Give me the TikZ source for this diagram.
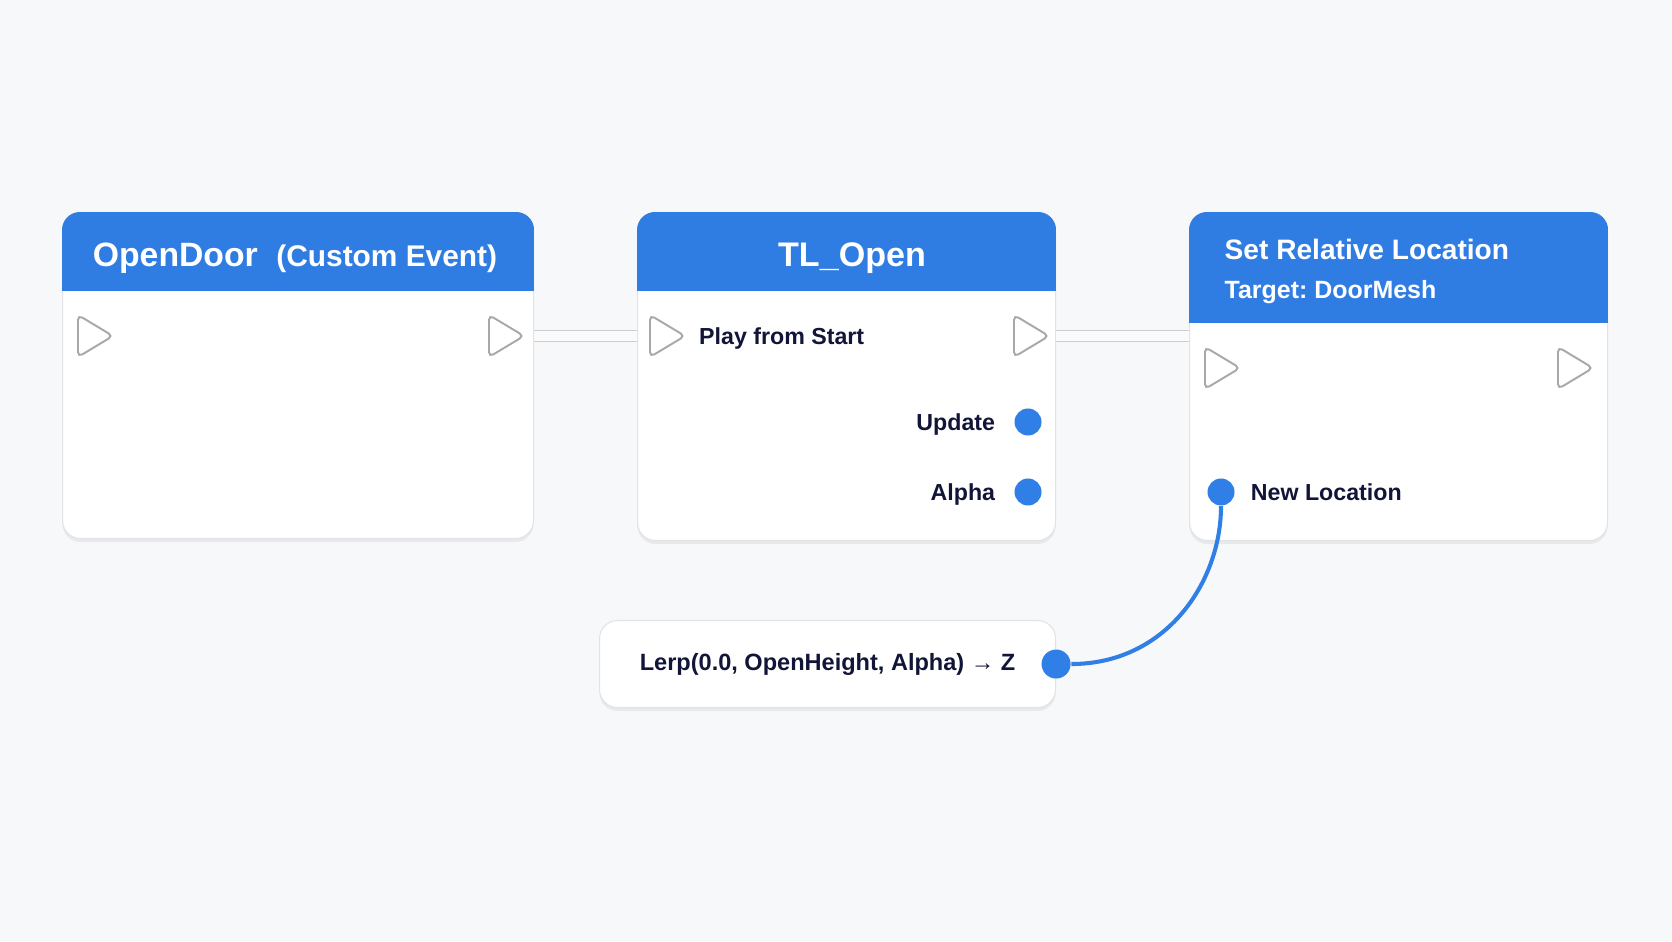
\documentclass[tikz,border=0pt]{standalone}
\usepackage{fontspec}
\setmainfont{Liberation Sans}
\usepackage{xcolor}
\usepackage{tikz}
\usetikzlibrary{positioning,shapes.geometric,shadows}

\definecolor{canvas}{HTML}{F7F8FA}
\definecolor{hdrblue}{HTML}{2F7DE2}
\definecolor{pinblue}{HTML}{2F7FE6}
\definecolor{ink}{HTML}{111638}
\definecolor{boxedge}{HTML}{E1E3E7}
\definecolor{pingray}{HTML}{A6A8AC}
\definecolor{wireedge}{HTML}{CBCED3}
\definecolor{wirefill}{HTML}{FBFBFC}

\begin{document}
\frenchspacing
\begin{tikzpicture}[
  font=\bfseries,
  bpbox/.style={draw=boxedge, line width=0.3pt, fill=white, rounded corners=0.18cm,
    anchor=north west, inner sep=0pt, text=ink,
    drop shadow={shadow xshift=0pt, shadow yshift=-1pt, opacity=0.06, fill=black}},
  hdtext/.style={text=white, inner sep=0pt},
  pinlabel/.style={text=ink, inner sep=0pt, font=\bfseries\fontsize{6.6pt}{8pt}\selectfont,
    text height=4.7pt, text depth=0pt},
  execpin/.style={isosceles triangle, isosceles triangle stretches, minimum width=0.42cm,
    minimum height=0.35cm, inner sep=0pt, anchor=west, draw=pingray, fill=white,
    line width=0.55pt, rounded corners=1.4pt},
  datapin/.style={circle, fill=pinblue, minimum size=0.27cm, inner sep=0pt},
  execwire/.style={draw=wireedge, line width=0.5pt, double=wirefill, double distance=2.6pt},
  datawire/.style={draw=pinblue, line width=1.15pt}
]

% ---------------- canvas ----------------
\fill[canvas] (0,0) rectangle (16.72,9.41);

% ---------------- node bodies ----------------
\node[bpbox, minimum width=4.71cm, minimum height=3.26cm] (evt) at (0.62,7.29) {};
\node[bpbox, minimum width=4.18cm, minimum height=3.28cm] (tl) at (6.37,7.29) {};
\node[bpbox, minimum width=4.18cm, minimum height=3.28cm] (srl) at (11.89,7.29) {};
\node[bpbox, minimum width=4.56cm, minimum height=0.87cm,
  font=\bfseries\fontsize{6.7pt}{8pt}\selectfont] (lerp) at (5.99,3.21)
  {Lerp(0.0, OpenHeight, Alpha) → Z};

% blue title bars, clipped to the rounded body
\foreach \b/\h in {evt/0.79cm, tl/0.79cm, srl/1.11cm} {
  \begin{scope}
    \clip[rounded corners=0.18cm] (\b.south west) rectangle (\b.north east);
    \fill[hdrblue] (\b.north west) rectangle ([yshift=-\h]\b.north east);
  \end{scope}
}

% titles
\node[hdtext, anchor=base, font=\bfseries\fontsize{9.6pt}{11pt}\selectfont] (evtTitle) at (2.95,6.74)
  {OpenDoor\hspace{0.55em}{\fontsize{8.5pt}{10pt}\selectfont(Custom Event)}};
\node[hdtext, anchor=base, font=\bfseries\fontsize{9.7pt}{11pt}\selectfont] (tlTitle) at (8.52,6.74) {TL\_Open};
\node[hdtext, anchor=base west, font=\bfseries\fontsize{8pt}{10pt}\selectfont] (srlTitle) at (12.24,6.81) {Set Relative Location};
\node[hdtext, anchor=base west, font=\bfseries\fontsize{7.1pt}{9pt}\selectfont] (srlTarget) at (12.24,6.42) {Target: DoorMesh};

% ---------------- exec pins ----------------
\node[execpin] (evtIn) at (0.77,6.05) {};
\node[execpin] (evtOut) at (4.88,6.05) {};
\node[execpin] (tlIn) at (6.49,6.05) {};
\node[execpin] (tlOut) at (10.13,6.05) {};
\node[execpin] (srlIn) at (12.04,5.73) {};
\node[execpin] (srlOut) at (15.57,5.73) {};

% ---------------- data pins ----------------
\node[datapin] (tlUpdate) at (10.28,5.19) {};
\node[datapin] (tlAlpha) at (10.28,4.49) {};
\node[datapin] (srlLoc) at (12.21,4.49) {};
\node[datapin, minimum size=0.29cm] (lerpOut) at (lerp.east) {};

% pin labels
\node[pinlabel, right=0.11cm of tlIn] (tlPlay) {Play from Start};
\node[pinlabel, left=0.18cm of tlUpdate] (tlUpdateLbl) {Update};
\node[pinlabel, left=0.18cm of tlAlpha] (tlAlphaLbl) {Alpha};
\node[pinlabel, right=0.15cm of srlLoc] (srlLocLbl) {New Location};

% ---------------- wires ----------------
\draw[execwire] (evt.east |- evtOut.west) -- (tl.west |- tlIn.west);
\draw[execwire] (tl.east |- tlOut.west) -- (srl.west |- tlOut.west);
\draw[datawire] (lerpOut) .. controls +(1.1,0) and +(0,-0.9) .. (srlLoc);

\end{tikzpicture}
\end{document}
